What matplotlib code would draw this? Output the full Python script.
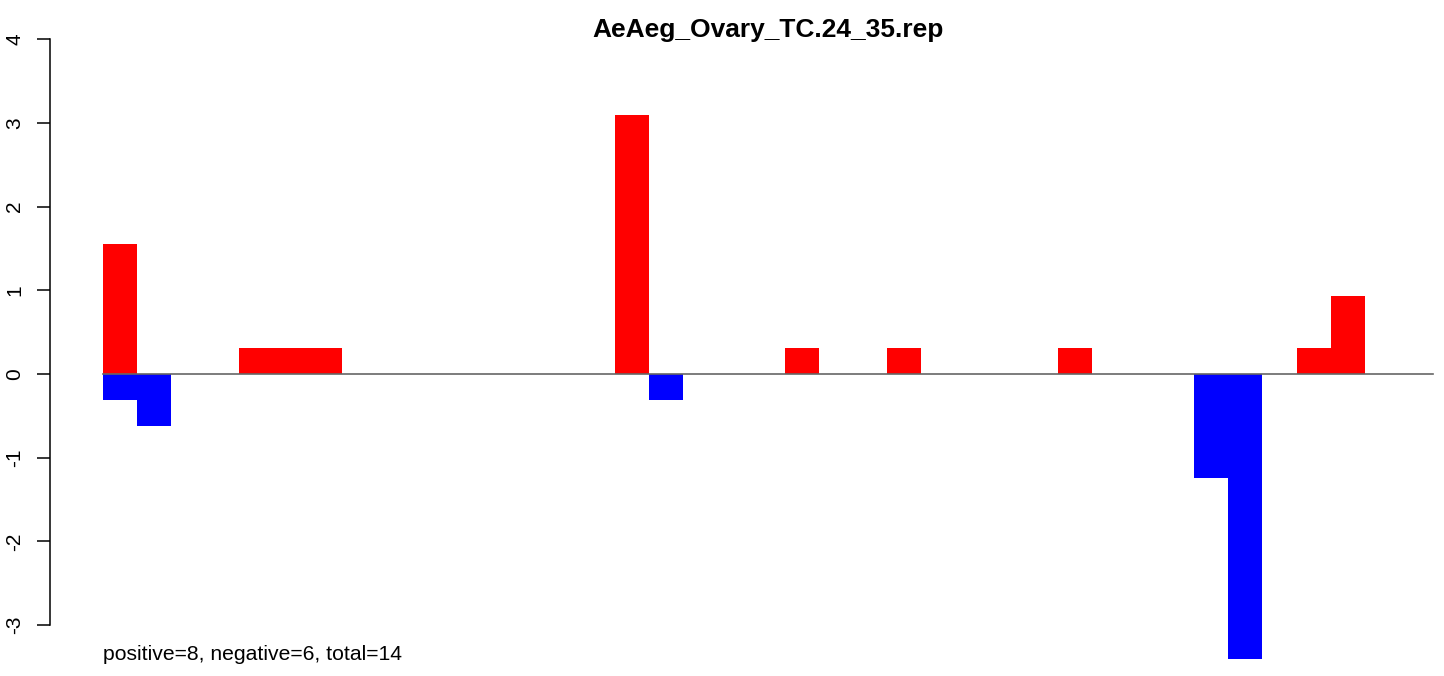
import matplotlib
matplotlib.use("Agg")
import matplotlib.pyplot as plt
import numpy as np

plt.rcParams['font.family'] = ['Liberation Sans', 'DejaVu Sans']

# bar slots 0..38, positive (red) and negative (blue) parts
n_slots = 39
pos_idx = [0, 4, 5, 6, 15, 20, 23, 28, 35, 36]
pos_val = [1.55, 0.31, 0.31, 0.31, 3.10, 0.31, 0.31, 0.31, 0.31, 0.93]
neg_idx = [0, 1, 16, 32, 33]
neg_val = [-0.31, -0.62, -0.31, -1.24, -3.41]
y_ticks = [-3, -2, -1, 0, 1, 2, 3, 4]
title = "AeAeg_Ovary_TC.24_35.rep"
note = "positive=8, negative=6, total=14"

pos = np.zeros(n_slots)
neg = np.zeros(n_slots)
pos[pos_idx] = pos_val
neg[neg_idx] = neg_val

fig = plt.figure(figsize=(14.44, 6.76), dpi=100)
ax = fig.add_axes([0, 0, 1, 1])

x = np.arange(n_slots)
ax.bar(x, pos, width=1.0, align='edge', color='#ff0000', linewidth=0)
ax.bar(x, neg, width=1.0, align='edge', color='#0000ff', linewidth=0)
ax.plot([0, n_slots], [0, 0], color='#666666', lw=1.2, zorder=3)

# pixel mapping: x_px = 103 + 34.1*i, y_px = 374 - 83.7*v
ax.set_xlim(-103 / 34.1, (1444 - 103) / 34.1)
ax.set_ylim(-(676 - 374) / 83.7, 374 / 83.7)

for s in ['top', 'right', 'bottom']:
    ax.spines[s].set_visible(False)
ax.spines['left'].set_position(('data', (50 - 103) / 34.1))
ax.spines['left'].set_bounds(-3, 4)
ax.spines['left'].set_linewidth(1.1)
ax.set_xticks([])
ax.set_yticks(y_ticks)
ax.set_yticklabels([str(t) for t in y_ticks], rotation=90, va='center', fontsize=15)
ax.tick_params(axis='y', length=9.4, width=1.1, pad=9)

fig.text(768 / 1444, 1 - 30 / 676, title, ha='center', va='center',
         fontsize=19, fontweight='bold')
ax.text(0, -(655 - 374) / 83.7, note, ha='left', va='center', fontsize=15.2)

fig.savefig("out.png", dpi=100)
